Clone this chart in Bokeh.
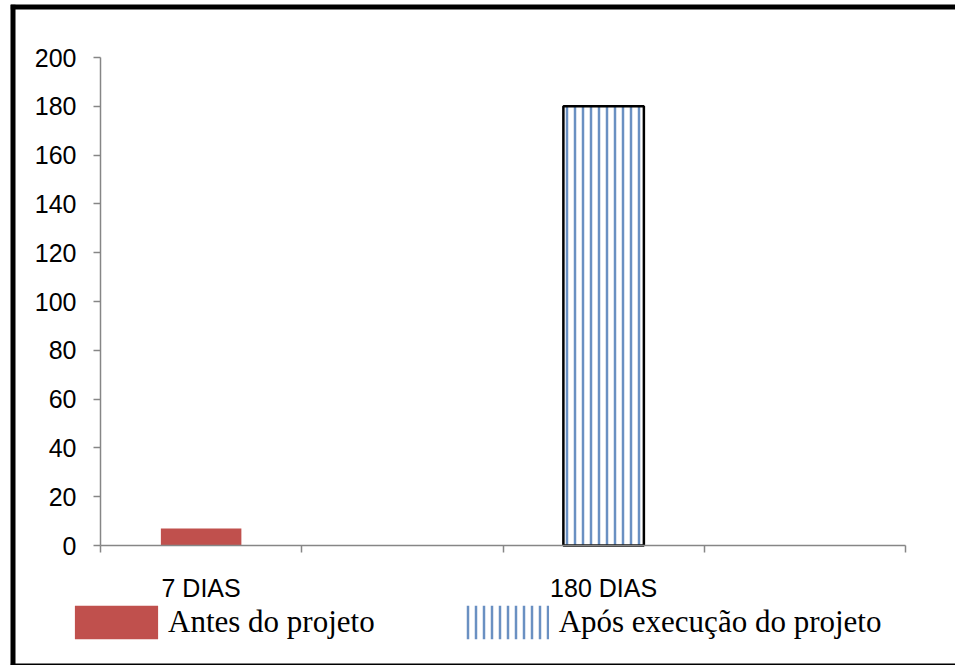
from bokeh.plotting import figure
from bokeh.models import Range1d, LinearAxis, FixedTicker, Legend, LegendItem, Span
from bokeh.embed import file_html
from bokeh.resources import INLINE

# ---- data ----
categories = ["7 DIAS", "", "180 DIAS", ""]
series_names = ["Antes do projeto", "Após execução do projeto"]
antes_cat = ["7 DIAS"]
antes_val = [7]
apos_cat = ["180 DIAS"]
apos_val = [180]
y_ticks = [0, 20, 40, 60, 80, 100, 120, 140, 160, 180, 200]
y_max = 200

AXIS_GRAY = "#868686"
RED = "#C0504D"
HATCH_BLUE = "#6A90C2"

n = len(categories)
centers = [i + 0.5 for i in range(n)]
bounds = list(range(n + 1))
def pos(c):
    return categories.index(c) + 0.5

# canvas = frame (945 x 661 px); axes sit at fixed data locations inside it
W, H = 945, 661
PX_X = 201.25   # px per category slot
PX_Y = 2.44     # px per y unit
x_start = -90 / PX_X
x_end = x_start + W / PX_X
y_end = y_max + 53 / PX_Y
y_start = y_end - H / PX_Y

p = figure(width=W, height=H, output_backend="svg", toolbar_location=None,
           x_range=Range1d(x_start, x_end), y_range=Range1d(y_start, y_end),
           x_axis_location=None, y_axis_location=None,
           min_border_left=0, min_border_right=0, min_border_top=0, min_border_bottom=0)
p.xgrid.visible = False
p.ygrid.visible = False
p.outline_line_color = None
p.background_fill_color = "white"
p.border_fill_color = "white"
p.styles = {"margin-left": "10px", "margin-top": "4px"}

# picture border (black bands on left/top, thin line at bottom)
p.add_layout(Span(location=x_start, dimension="height", line_color="black", line_width=10))
p.add_layout(Span(location=y_end, dimension="width", line_color="black", line_width=10))
p.add_layout(Span(location=y_start, dimension="width", line_color="black", line_width=4))

# y axis
yax = LinearAxis(ticker=FixedTicker(ticks=y_ticks), fixed_location=0, bounds=(0, y_max))
yax.axis_line_color = AXIS_GRAY
yax.axis_line_width = 1.5
yax.major_tick_line_color = AXIS_GRAY
yax.major_tick_line_width = 1.5
yax.major_tick_out = 7
yax.major_tick_in = 0
yax.minor_tick_line_color = None
yax.major_label_text_font = "Liberation Sans"
yax.major_label_text_font_size = "25px"
yax.major_label_text_color = "black"
yax.major_label_standoff = 17
p.add_layout(yax, "left")

# x axis: tick marks at category boundaries
xtick = LinearAxis(ticker=FixedTicker(ticks=bounds), fixed_location=0, bounds=(0, n))
xtick.axis_line_color = AXIS_GRAY
xtick.axis_line_width = 1.5
xtick.major_tick_line_color = AXIS_GRAY
xtick.major_tick_line_width = 1.5
xtick.major_tick_out = 7
xtick.major_tick_in = 0
xtick.minor_tick_line_color = None
xtick.major_label_text_font_size = "0px"
xtick.major_label_standoff = 0
p.add_layout(xtick, "below")

# x axis: category labels
xcat = LinearAxis(ticker=FixedTicker(ticks=centers), fixed_location=0, bounds=(0, n),
                  major_label_overrides={c: lab for c, lab in zip(centers, categories)})
xcat.axis_line_color = None
xcat.major_tick_line_color = None
xcat.minor_tick_line_color = None
xcat.major_label_text_font = "Liberation Sans"
xcat.major_label_text_font_size = "25px"
xcat.major_label_text_color = "black"
xcat.major_label_standoff = 22
p.add_layout(xcat, "below")

# bars
r1 = p.vbar(x=[pos(c) for c in antes_cat], top=antes_val, width=0.4, fill_color=RED, line_color=None)
r2 = p.vbar(x=[pos(c) for c in apos_cat], top=apos_val, width=0.4, fill_color="white", line_color=None,
            hatch_pattern="|", hatch_color=HATCH_BLUE, hatch_scale=8, hatch_weight=2.5)
p.vbar(x=[pos(c) for c in apos_cat], top=apos_val, width=0.4, fill_color=None,
       line_color="black", line_width=2.5)

legend = Legend(items=[LegendItem(label=series_names[0], renderers=[r1]),
                       LegendItem(label=series_names[1], renderers=[r2])],
                location=(54, 22), orientation="horizontal",
                background_fill_color="white", background_fill_alpha=1.0,
                border_line_color=None, padding=13, margin=0, spacing=80,
                glyph_width=104, glyph_height=42, label_standoff=0,
                label_text_font="Liberation Serif", label_text_font_size="31px",
                label_text_color="black")
p.add_layout(legend, "center")

open("out.html", "w").write(file_html(p, INLINE))
